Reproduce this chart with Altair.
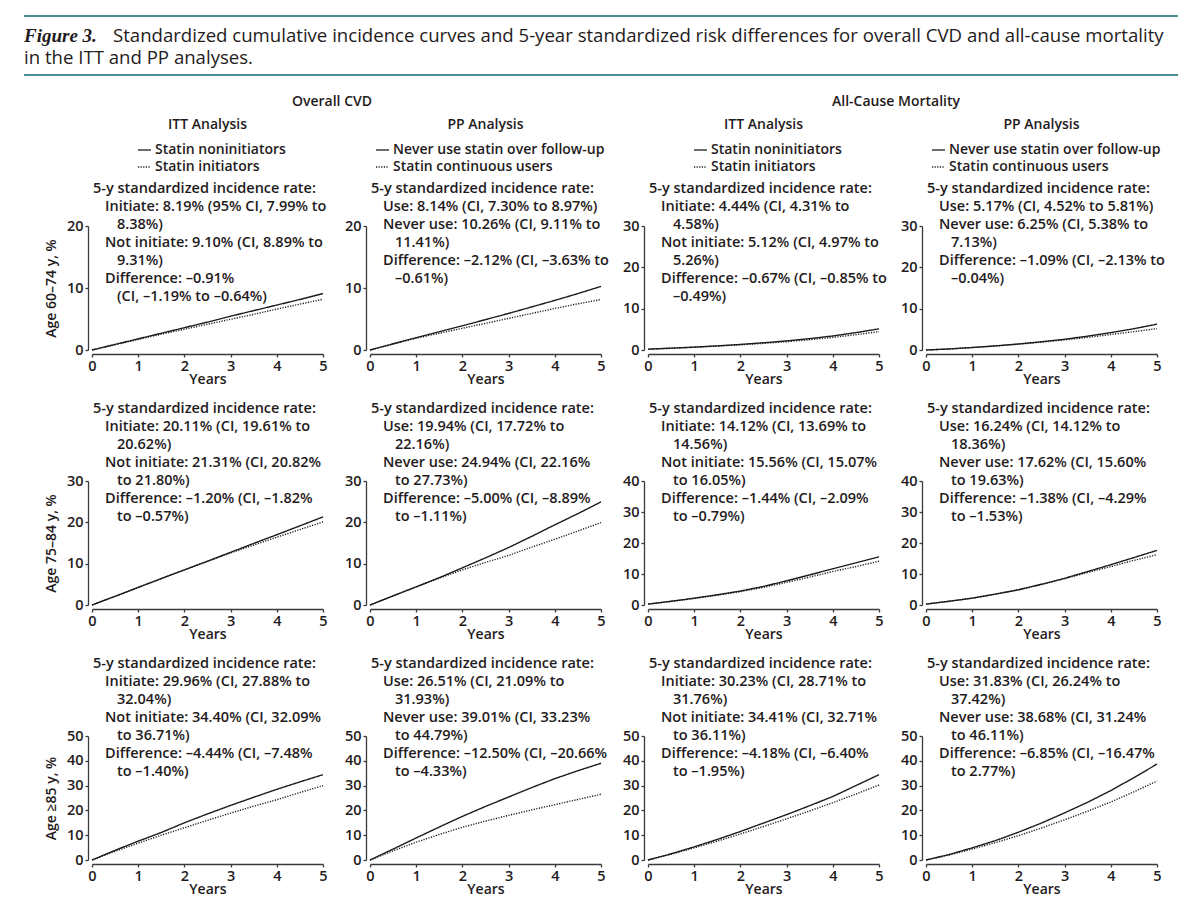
import altair as alt
import pandas as pd

# ---------------- data ----------------
YEARS = [0, 0.5, 1, 1.5, 2, 2.5, 3, 3.5, 4, 4.5, 5]

# Overall CVD, ITT (solid = statin noninitiators, dotted = statin initiators)
cvd_itt_60_74_non = [0, 0.9, 1.8, 2.7, 3.6, 4.5, 5.45, 6.35, 7.25, 8.15, 9.10]
cvd_itt_60_74_ini = [0, 0.85, 1.7, 2.55, 3.35, 4.15, 4.95, 5.75, 6.6, 7.4, 8.19]
cvd_itt_75_84_non = [0, 2.1, 4.25, 6.4, 8.5, 10.6, 12.75, 14.9, 17.0, 19.15, 21.31]
cvd_itt_75_84_ini = [0, 2.1, 4.25, 6.4, 8.5, 10.55, 12.6, 14.5, 16.4, 18.25, 20.11]
cvd_itt_85_non = [0, 3.9, 7.6, 11.1, 15.0, 18.6, 22.0, 25.3, 28.5, 31.5, 34.40]
cvd_itt_85_ini = [0, 3.5, 6.8, 10.0, 13.0, 16.0, 18.9, 21.7, 24.3, 27.2, 29.96]

# Overall CVD, PP (solid = never use statin, dotted = statin continuous users)
cvd_pp_60_74_never = [0, 1.0, 2.0, 2.95, 3.9, 4.9, 5.9, 6.95, 8.0, 9.1, 10.26]
cvd_pp_60_74_use = [0, 0.95, 1.9, 2.7, 3.5, 4.3, 5.1, 5.9, 6.7, 7.45, 8.14]
cvd_pp_75_84_never = [0, 2.2, 4.4, 6.6, 9.0, 11.4, 13.9, 16.6, 19.4, 22.1, 24.94]
cvd_pp_75_84_use = [0, 2.2, 4.4, 6.5, 8.5, 10.3, 12.0, 14.0, 15.9, 17.9, 19.94]
cvd_pp_85_never = [0, 4.4, 8.9, 13.3, 17.6, 21.6, 25.4, 29.2, 32.8, 36.0, 39.01]
cvd_pp_85_use = [0, 3.7, 7.2, 10.3, 13.2, 15.7, 18.0, 20.2, 22.3, 24.4, 26.51]

# All-cause mortality, ITT
mort_itt_60_74_non = [0.2, 0.45, 0.7, 1.0, 1.35, 1.75, 2.2, 2.75, 3.4, 4.2, 5.12]
mort_itt_60_74_ini = [0.2, 0.4, 0.65, 0.95, 1.25, 1.6, 2.0, 2.5, 3.05, 3.7, 4.44]
mort_itt_75_84_non = [0.3, 1.2, 2.2, 3.3, 4.5, 6.0, 7.8, 9.7, 11.7, 13.6, 15.56]
mort_itt_75_84_ini = [0.3, 1.15, 2.1, 3.15, 4.3, 5.7, 7.3, 9.0, 10.8, 12.4, 14.12]
mort_itt_85_non = [0, 2.5, 5.3, 8.3, 11.5, 14.9, 18.3, 21.9, 25.6, 30.0, 34.41]
mort_itt_85_ini = [0, 2.3, 4.9, 7.6, 10.5, 13.5, 16.6, 19.8, 23.1, 26.6, 30.23]

# All-cause mortality, PP
mort_pp_60_74_never = [0, 0.25, 0.6, 1.0, 1.45, 2.0, 2.6, 3.35, 4.2, 5.15, 6.25]
mort_pp_60_74_use = [0, 0.25, 0.6, 0.95, 1.4, 1.9, 2.45, 3.05, 3.75, 4.45, 5.17]
mort_pp_75_84_never = [0.3, 1.2, 2.2, 3.5, 4.9, 6.7, 8.6, 10.8, 13.0, 15.3, 17.62]
mort_pp_75_84_use = [0.3, 1.2, 2.2, 3.5, 4.9, 6.6, 8.5, 10.5, 12.4, 14.4, 16.24]
mort_pp_85_never = [0, 2.2, 4.9, 7.8, 11.2, 14.9, 19.0, 23.3, 28.0, 33.2, 38.68]
mort_pp_85_use = [0, 2.0, 4.4, 7.0, 9.8, 12.9, 16.2, 19.7, 23.4, 27.5, 31.83]

Y_MAX = [[20, 20, 30, 30], [30, 30, 40, 40], [50, 50, 50, 50]]
ROW_TITLES = ["Age 60\u201374 y, %", "Age 75\u201384 y, %", "Age \u226585 y, %"]
GROUP_TITLES = ["Overall CVD", "All-Cause Mortality"]
ANALYSIS_TITLES = ["ITT Analysis", "PP Analysis", "ITT Analysis", "PP Analysis"]
ITT_LEGEND = ["Statin noninitiators", "Statin initiators"]
PP_LEGEND = ["Never use statin over follow-up", "Statin continuous users"]
HEADER = "5-y standardized incidence rate:"
FIG_LABEL = "Figure 3."
FIG_TITLE_1 = ("Standardized cumulative incidence curves and 5-year standardized risk "
               "differences for overall CVD and all-cause mortality")
FIG_TITLE_2 = "in the ITT and PP analyses."

# (indent level, text)
notes_cvd_itt_60_74 = [(1, "Initiate: 8.19% (95% CI, 7.99% to"), (2, "8.38%)"),
                       (1, "Not initiate: 9.10% (CI, 8.89% to"), (2, "9.31%)"),
                       (1, "Difference: \u20130.91%"), (2, "(CI, \u20131.19% to \u20130.64%)")]
notes_cvd_pp_60_74 = [(1, "Use: 8.14% (CI, 7.30% to 8.97%)"),
                      (1, "Never use: 10.26% (CI, 9.11% to"), (2, "11.41%)"),
                      (1, "Difference: \u20132.12% (CI, \u20133.63% to"), (2, "\u20130.61%)")]
notes_mort_itt_60_74 = [(1, "Initiate: 4.44% (CI, 4.31% to"), (2, "4.58%)"),
                        (1, "Not initiate: 5.12% (CI, 4.97% to"), (2, "5.26%)"),
                        (1, "Difference: \u20130.67% (CI, \u20130.85% to"), (2, "\u20130.49%)")]
notes_mort_pp_60_74 = [(1, "Use: 5.17% (CI, 4.52% to 5.81%)"),
                       (1, "Never use: 6.25% (CI, 5.38% to"), (2, "7.13%)"),
                       (1, "Difference: \u20131.09% (CI, \u20132.13% to"), (2, "\u20130.04%)")]
notes_cvd_itt_75_84 = [(1, "Initiate: 20.11% (CI, 19.61% to"), (2, "20.62%)"),
                       (1, "Not initiate: 21.31% (CI, 20.82%"), (2, "to 21.80%)"),
                       (1, "Difference: \u20131.20% (CI, \u20131.82%"), (2, "to \u20130.57%)")]
notes_cvd_pp_75_84 = [(1, "Use: 19.94% (CI, 17.72% to"), (2, "22.16%)"),
                      (1, "Never use: 24.94% (CI, 22.16%"), (2, "to 27.73%)"),
                      (1, "Difference: \u20135.00% (CI, \u20138.89%"), (2, "to \u20131.11%)")]
notes_mort_itt_75_84 = [(1, "Initiate: 14.12% (CI, 13.69% to"), (2, "14.56%)"),
                        (1, "Not initiate: 15.56% (CI, 15.07%"), (2, "to 16.05%)"),
                        (1, "Difference: \u20131.44% (CI, \u20132.09%"), (2, "to \u20130.79%)")]
notes_mort_pp_75_84 = [(1, "Use: 16.24% (CI, 14.12% to"), (2, "18.36%)"),
                       (1, "Never use: 17.62% (CI, 15.60%"), (2, "to 19.63%)"),
                       (1, "Difference: \u20131.38% (CI, \u20134.29%"), (2, "to \u20131.53%)")]
notes_cvd_itt_85 = [(1, "Initiate: 29.96% (CI, 27.88% to"), (2, "32.04%)"),
                    (1, "Not initiate: 34.40% (CI, 32.09%"), (2, "to 36.71%)"),
                    (1, "Difference: \u20134.44% (CI, \u20137.48%"), (2, "to \u20131.40%)")]
notes_cvd_pp_85 = [(1, "Use: 26.51% (CI, 21.09% to"), (2, "31.93%)"),
                   (1, "Never use: 39.01% (CI, 33.23%"), (2, "to 44.79%)"),
                   (1, "Difference: \u201312.50% (CI, \u201320.66%"), (2, "to \u20134.33%)")]
notes_mort_itt_85 = [(1, "Initiate: 30.23% (CI, 28.71% to"), (2, "31.76%)"),
                     (1, "Not initiate: 34.41% (CI, 32.71%"), (2, "to 36.11%)"),
                     (1, "Difference: \u20134.18% (CI, \u20136.40%"), (2, "to \u20131.95%)")]
notes_mort_pp_85 = [(1, "Use: 31.83% (CI, 26.24% to"), (2, "37.42%)"),
                    (1, "Never use: 38.68% (CI, 31.24%"), (2, "to 46.11%)"),
                    (1, "Difference: \u20136.85% (CI, \u201316.47%"), (2, "to 2.77%)")]

PANELS = [
    [(cvd_itt_60_74_non, cvd_itt_60_74_ini, notes_cvd_itt_60_74),
     (cvd_pp_60_74_never, cvd_pp_60_74_use, notes_cvd_pp_60_74),
     (mort_itt_60_74_non, mort_itt_60_74_ini, notes_mort_itt_60_74),
     (mort_pp_60_74_never, mort_pp_60_74_use, notes_mort_pp_60_74)],
    [(cvd_itt_75_84_non, cvd_itt_75_84_ini, notes_cvd_itt_75_84),
     (cvd_pp_75_84_never, cvd_pp_75_84_use, notes_cvd_pp_75_84),
     (mort_itt_75_84_non, mort_itt_75_84_ini, notes_mort_itt_75_84),
     (mort_pp_75_84_never, mort_pp_75_84_use, notes_mort_pp_75_84)],
    [(cvd_itt_85_non, cvd_itt_85_ini, notes_cvd_itt_85),
     (cvd_pp_85_never, cvd_pp_85_use, notes_cvd_pp_85),
     (mort_itt_85_non, mort_itt_85_ini, notes_mort_itt_85),
     (mort_pp_85_never, mort_pp_85_use, notes_mort_pp_85)],
]

# ---------------- style ----------------
FONT = "Open Sans"
INK = "#1f1b1c"
AXIS_INK = "#3a3a3a"
TEAL = "#4f8e90"
W, H = 231, 124
NOTE_X = [1, 13, 25]
NOTE_SIZE = 14.5
LINE_H = 18
DOT = [1.2, 1.4]


def txt(s, x, y, size=14, weight=600, align="left", baseline="middle",
        font=FONT, style="normal"):
    return alt.Chart(pd.DataFrame({"s": [s]})).mark_text(
        font=font, fontSize=size, fontWeight=weight, fontStyle=style,
        align=align, baseline=baseline, color=INK
    ).encode(x=alt.value(x), y=alt.value(y), text="s:N")


def hline(x1, x2, y, color, width, dash=None):
    kw = dict(color=color, strokeWidth=width)
    if dash:
        kw["strokeDash"] = dash
    return alt.Chart(pd.DataFrame({"k": [0]})).mark_rule(**kw).encode(
        x=alt.value(x1), x2=alt.value(x2), y=alt.value(y))


def panel(r, c):
    solid, dotted, notes = PANELS[r][c]
    ymax = Y_MAX[r][c]
    df = pd.DataFrame({
        "t": YEARS + YEARS,
        "v": solid + dotted,
        "s": ["solid"] * len(YEARS) + ["dotted"] * len(YEARS),
    })
    yaxis = dict(values=list(range(0, ymax + 1, 10)), format="d")
    ytitle = ROW_TITLES[r] if c == 0 else None
    lines = alt.Chart(df).mark_line(color=INK, strokeWidth=1.4).encode(
        x=alt.X("t:Q", scale=alt.Scale(domain=[0, 5], nice=False),
                axis=alt.Axis(values=[0, 1, 2, 3, 4, 5], format="d"), title="Years"),
        y=alt.Y("v:Q", scale=alt.Scale(domain=[0, ymax], nice=False),
                axis=alt.Axis(**yaxis), title=ytitle),
        strokeDash=alt.StrokeDash("s:N", scale=alt.Scale(domain=["solid", "dotted"],
                                  range=[[1, 0], DOT]), legend=None),
    )
    layers = [lines]
    # annotation block
    y0 = -37 if r == 0 else -72
    layers.append(txt(HEADER, NOTE_X[0], y0, size=NOTE_SIZE))
    for i, (lvl, s) in enumerate(notes):
        layers.append(txt(s, NOTE_X[lvl], y0 + LINE_H * (i + 1), size=NOTE_SIZE))
    if r == 0:
        layers.append(txt(ANALYSIS_TITLES[c], W / 2, -101, align="center"))
        leg = ITT_LEGEND if c % 2 == 0 else PP_LEGEND
        lx = 63 if c % 2 == 0 else 23
        layers.append(hline(lx - 17, lx - 4, -76, INK, 1.3))
        layers.append(hline(lx - 17, lx - 4, -59, INK, 1.3, DOT))
        layers.append(txt(leg[0], lx, -76))
        layers.append(txt(leg[1], lx, -59))
        if c == 0:
            layers.append(txt(GROUP_TITLES[0], 240, -124, align="center"))
            layers.append(hline(-68, 1086, -210, TEAL, 2.2))
            layers.append(hline(-68, 1086, -151, TEAL, 2.2))
            layers.append(txt(FIG_LABEL, -68, -190, size=19, weight="bold",
                              font="Liberation Serif", style="italic"))
            layers.append(txt(FIG_TITLE_1, 21, -190, size=18.6, weight=400))
            layers.append(txt(FIG_TITLE_2, -68, -168, size=18.6, weight=400))
        if c == 2:
            layers.append(txt(GROUP_TITLES[1], 248, -124, align="center"))
    return alt.layer(*layers).properties(width=W, height=H)


panels = [panel(r, c) for r in range(3) for c in range(4)]

chart = alt.concat(
    *panels, columns=4, spacing={"row": 131, "column": 47}, bounds="flush"
).properties(
    padding={"left": 14, "top": 6, "right": 10, "bottom": 10}
).configure_view(
    stroke=None
).configure_axis(
    domainColor=AXIS_INK, domainWidth=1.3, tickColor=AXIS_INK, tickWidth=1.3,
    tickSize=3, offset=4, grid=False, labelFont=FONT, labelFontSize=14.5,
    labelFontWeight=600, labelColor=INK, labelPadding=2, titleFont=FONT,
    titleFontSize=14, titleFontWeight=600, titleColor=INK
).configure_axisX(
    titlePadding=0, labelFlush=False
).configure_axisY(
    titlePadding=8
)

chart.save("out.html", embed_options={"renderer": "svg", "actions": False})
